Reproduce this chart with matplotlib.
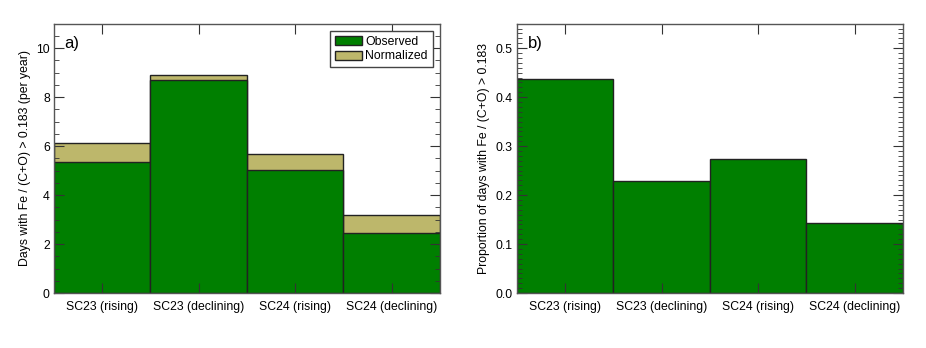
import numpy as np
import matplotlib.pyplot as plt
from matplotlib.ticker import MultipleLocator
from matplotlib.patches import Patch

plt.rcParams["font.family"] = ["Liberation Sans", "DejaVu Sans"]

categories = ["SC23 (rising)", "SC23 (declining)", "SC24 (rising)", "SC24 (declining)"]
observed = [5.35, 8.68, 5.01, 2.46]
normalized = [6.12, 8.92, 5.67, 3.18]
proportion = [0.438, 0.229, 0.273, 0.142]

green = "#007f00"
khaki = "#bdb76b"
edge = "#222222"
fs = 8.8

fig = plt.figure(figsize=(9.26, 3.48), dpi=100)
ax1 = fig.add_axes([0.0583, 0.158, 0.4168, 0.774])
ax2 = fig.add_axes([0.5583, 0.158, 0.4168, 0.774])

x = np.arange(len(categories))

ax1.bar(x, normalized, width=1.0, color=khaki, edgecolor=edge, linewidth=1, label="Normalized")
ax1.bar(x, observed, width=1.0, color=green, edgecolor=edge, linewidth=1, label="Observed")
ax1.set_ylim(0, 11)
ax1.yaxis.set_major_locator(MultipleLocator(2))
ax1.yaxis.set_minor_locator(MultipleLocator(0.5))
ax1.set_ylabel("Days with Fe / (C+O) > 0.183 (per year)", fontsize=fs, labelpad=4)
ax1.text(0.027, 0.953, "a)", transform=ax1.transAxes, fontsize=12, va="top")
handles = [Patch(facecolor=green, edgecolor=edge), Patch(facecolor=khaki, edgecolor=edge)]
leg = ax1.legend(handles, ["Observed", "Normalized"], loc="upper right",
                 bbox_to_anchor=(1, 1), fontsize=fs, fancybox=False,
                 framealpha=1, edgecolor="#444444", borderpad=0.4,
                 handlelength=2.2, handleheight=0.75, handletextpad=0.25,
                 labelspacing=0.2, borderaxespad=0.6)
leg.get_frame().set_linewidth(1)

ax2.bar(x, proportion, width=1.0, color=green, edgecolor=edge, linewidth=1)
ax2.set_ylim(0, 0.55)
ax2.yaxis.set_major_locator(MultipleLocator(0.1))
ax2.yaxis.set_minor_locator(MultipleLocator(0.01))
ax2.set_ylabel("Proportion of days with Fe / (C+O) > 0.183", fontsize=fs, labelpad=4)
ax2.text(0.028, 0.953, "b)", transform=ax2.transAxes, fontsize=12, va="top")

for ax in (ax1, ax2):
    ax.set_xlim(-0.5, 3.5)
    ax.set_xticks(x)
    ax.set_xticklabels(categories)
    ax.tick_params(axis="both", which="major", direction="in", length=7,
                   top=True, right=True, labelsize=fs, color="#333333")
    ax.tick_params(axis="x", which="major", pad=6)
    ax.tick_params(axis="y", which="major", pad=3)
    ax.tick_params(axis="y", which="minor", direction="in", length=3.5,
                   right=True, left=True, color="#333333")
    ax.tick_params(axis="x", which="minor", bottom=False, top=False)
    for s in ax.spines.values():
        s.set_color("#555555")
        s.set_linewidth(1)

fig.savefig("out.png", dpi=100)
